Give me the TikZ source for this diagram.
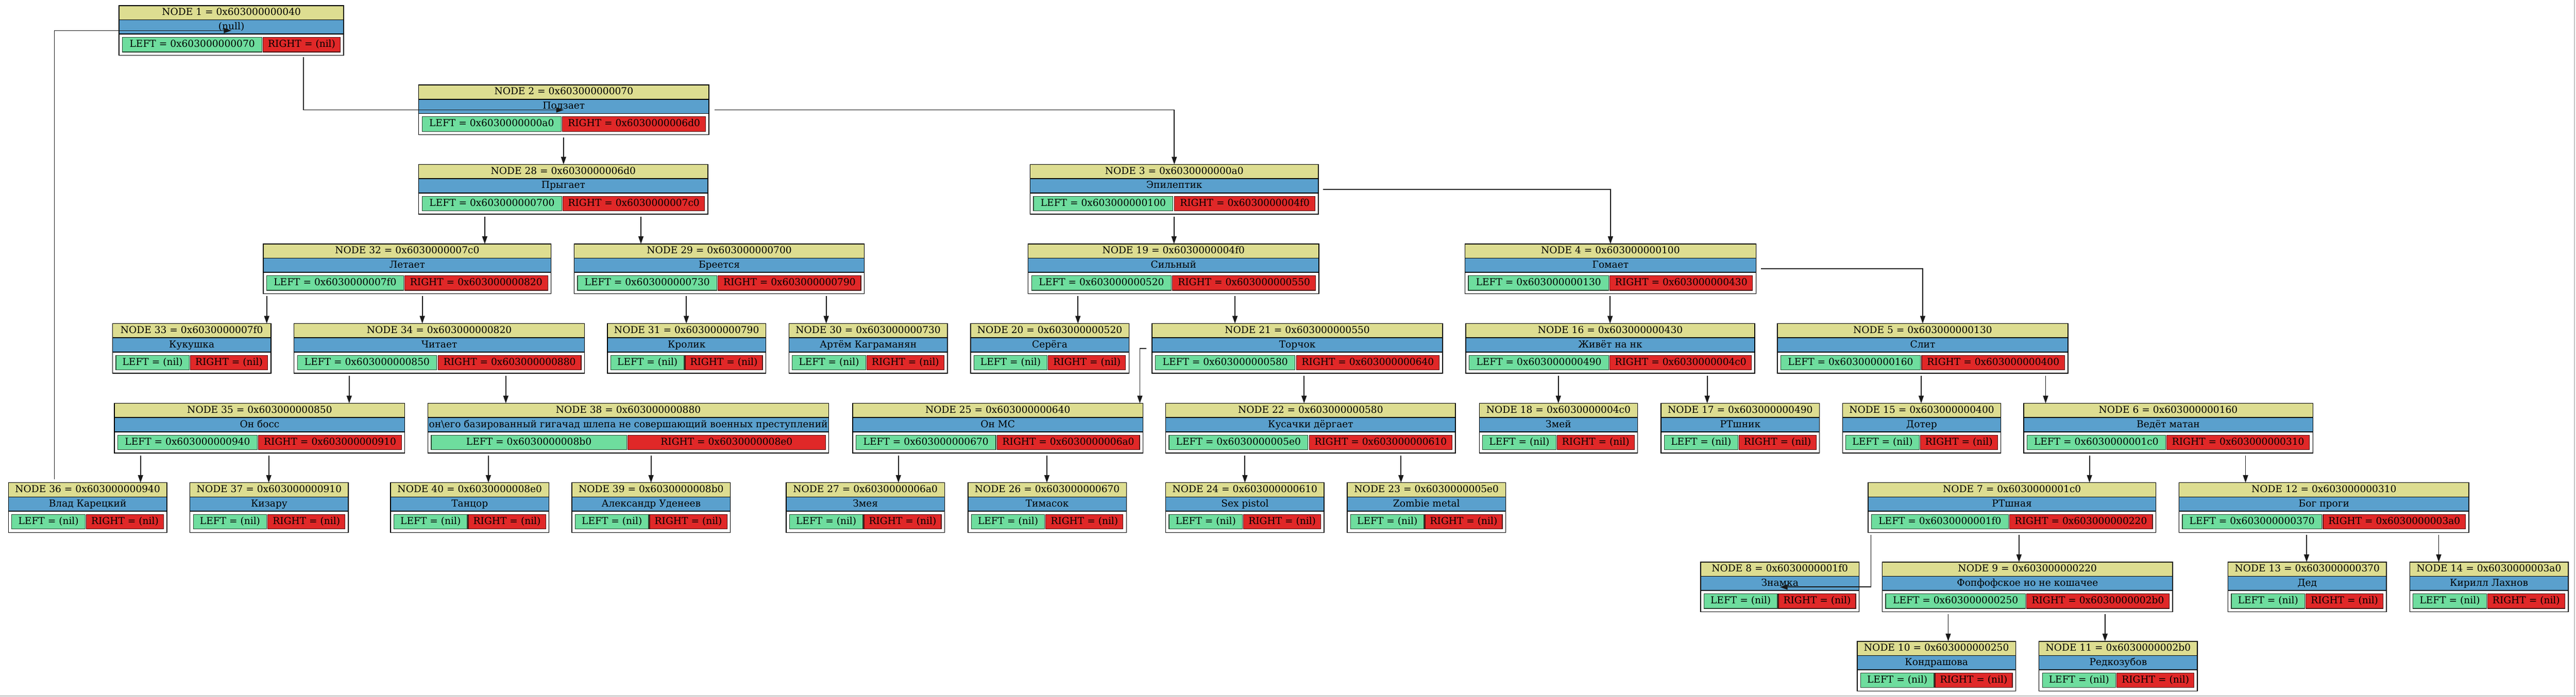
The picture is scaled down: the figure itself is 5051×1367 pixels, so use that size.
\documentclass[tikz,border=0pt]{standalone}
\usepackage{fontspec}
\setmainfont{DejaVu Serif}
\usetikzlibrary{arrows.meta}
\definecolor{hdrc}{RGB}{221,221,145}
\definecolor{lblc}{RGB}{90,160,205}
\definecolor{lcc}{RGB}{110,221,158}
\definecolor{rcc}{RGB}{224,40,40}
\definecolor{lcb}{RGB}{40,70,50}
\definecolor{rcb}{RGB}{80,20,20}
\tikzset{
  every node/.style={font=\fontsize{18.8pt}{22pt}\selectfont, inner sep=0pt, outer sep=0pt, text height=14pt, text depth=4pt},
  hdrbox/.style={fill=hdrc, minimum height=28pt},
  lblbox/.style={fill=lblc, minimum height=28pt},
  lcell/.style={fill=lcc, draw=lcb, line width=1.2pt, minimum height=28.5pt},
  rcell/.style={fill=rcc, draw=rcb, line width=1.2pt, minimum height=28.5pt},
  frame/.style={draw=black, line width=1.5pt, minimum height=97.6pt},
  sepline/.style={draw=black, line width=1.8pt},
  edge/.style={draw=black!90, line width=1.8pt, -{Triangle[length=15pt,width=10pt]}},
}
% name, L, R, left cell end, right cell start, header, label, left text, right text
\newcommand\fullrec[9]{%
  \node[hdrbox, minimum width={((#3)-(#2))*1pt}, anchor=north west] (#1h) at ({#2},{\rowtop}) {#6};
  \node[lblbox, minimum width={((#3)-(#2))*1pt}, anchor=north west] (#1b) at ({#2},{\rowtop+28}) {#7};
  \draw[sepline] (#1h.south west) -- (#1h.south east);
  \draw[sepline] (#1b.south west) -- (#1b.south east);
  \node[lcell, minimum width={((#4)-(#2)-6.5)*1pt}, anchor=north west] (#1l) at ({#2+6.5},{\rowtop+62.5}) {#8};
  \node[rcell, minimum width={((#3)-6.5-(#5))*1pt}, anchor=north west] (#1r) at ({#5},{\rowtop+62.5}) {#9};
  \node[frame, minimum width={((#3)-(#2))*1pt}, anchor=north west] (#1) at ({#2},{\rowtop}) {};
}
\newcommand\nilrec[4]{%
  \fullrec{#1}{#2}{#2+310.6}{#2+150.5}{#2+152.5}{#3}{#4}{LEFT = (nil)}{RIGHT = (nil)}}
\newcommand\vedge[3]{%
  \draw[edge, shorten <=5pt] (#1.south -| #3,0) -- (#2.north -| #3,0);}
\begin{document}
\begin{tikzpicture}[x=1pt,y=-1pt]
\useasboundingbox (0,0) rectangle (5051,1367);
\fill[white] (0,0) rectangle (5051,1367);
% row 1
\def\rowtop{11}
\fullrec{n1}{233.5}{674}{514}{515.6}{NODE 1 = 0x603000000040}{(null)}{LEFT = 0x603000000070}{RIGHT = (nil)}
% row 2
\def\rowtop{166.7}
\fullrec{n2}{821}{1390}{1100.5}{1103}{NODE 2 = 0x603000000070}{Ползает}{LEFT = 0x6030000000a0}{RIGHT = 0x6030000006d0}
% row 3
\def\rowtop{322.7}
\fullrec{n28}{821}{1388}{1102}{1104}{NODE 28 = 0x6030000006d0}{Прыгает}{LEFT = 0x603000000700}{RIGHT = 0x6030000007c0}
\fullrec{n3}{2020}{2585}{2300}{2303}{NODE 3 = 0x6030000000a0}{Эпилептик}{LEFT = 0x603000000100}{RIGHT = 0x6030000004f0}
% row 4
\def\rowtop{478.7}
\fullrec{n32}{516.3}{1080.6}{791.3}{793.4}{NODE 32 = 0x6030000007c0}{Летает}{LEFT = 0x6030000007f0}{RIGHT = 0x603000000820}
\fullrec{n29}{1126}{1694.6}{1405.6}{1408}{NODE 29 = 0x603000000700}{Бреется}{LEFT = 0x603000000730}{RIGHT = 0x603000000790}
\fullrec{n19}{2016}{2586}{2297}{2299}{NODE 19 = 0x6030000004f0}{Сильный}{LEFT = 0x603000000520}{RIGHT = 0x603000000550}
\fullrec{n4}{2872.5}{3443}{3154.5}{3156.6}{NODE 4 = 0x603000000100}{Гомает}{LEFT = 0x603000000130}{RIGHT = 0x603000000430}
% row 5
\def\rowtop{635}
\nilrec{n33}{220.7}{NODE 33 = 0x6030000007f0}{Кукушка}
\fullrec{n34}{576.5}{1146}{856.5}{859}{NODE 34 = 0x603000000820}{Читает}{LEFT = 0x603000000850}{RIGHT = 0x603000000880}
\nilrec{n31}{1191}{NODE 31 = 0x603000000790}{Кролик}
\nilrec{n30}{1547}{NODE 30 = 0x603000000730}{Артём Каграманян}
\nilrec{n20}{1903}{NODE 20 = 0x603000000520}{Серёга}
\fullrec{n21}{2259}{2828.6}{2539.5}{2542}{NODE 21 = 0x603000000550}{Торчок}{LEFT = 0x603000000580}{RIGHT = 0x603000000640}
\fullrec{n16}{2874}{3440.7}{3154.5}{3156.6}{NODE 16 = 0x603000000430}{Живёт на нк}{LEFT = 0x603000000490}{RIGHT = 0x6030000004c0}
\fullrec{n5}{3485}{4055}{3765.7}{3768}{NODE 5 = 0x603000000130}{Слит}{LEFT = 0x603000000160}{RIGHT = 0x603000000400}
% row 6
\def\rowtop{791.5}
\fullrec{n35}{224.5}{793.7}{504.5}{507}{NODE 35 = 0x603000000850}{Он босс}{LEFT = 0x603000000940}{RIGHT = 0x603000000910}
\fullrec{n38}{839}{1625}{1228.6}{1231}{NODE 38 = 0x603000000880}{он\textbackslash его базированный гигачад шлепа не совершающий военных преступлений}{LEFT = 0x6030000008b0}{RIGHT = 0x6030000008e0}
\fullrec{n25}{1672}{2241}{1952.7}{1955}{NODE 25 = 0x603000000640}{Он МС}{LEFT = 0x603000000670}{RIGHT = 0x6030000006a0}
\fullrec{n22}{2285.7}{2854}{2564.5}{2567}{NODE 22 = 0x603000000580}{Кусачки дёргает}{LEFT = 0x6030000005e0}{RIGHT = 0x603000000610}
\nilrec{n18}{2900.5}{NODE 18 = 0x6030000004c0}{Змей}
\nilrec{n17}{3257}{NODE 17 = 0x603000000490}{РТшник}
\nilrec{n15}{3612.7}{NODE 15 = 0x603000000400}{Дотер}
\fullrec{n6}{3967.8}{4535}{4246.3}{4248.5}{NODE 6 = 0x603000000160}{Ведёт матан}{LEFT = 0x6030000001c0}{RIGHT = 0x603000000310}
% row 7
\def\rowtop{947.3}
\nilrec{n36}{16.6}{NODE 36 = 0x603000000940}{Влад Карецкий}
\nilrec{n37}{372.5}{NODE 37 = 0x603000000910}{Кизару}
\nilrec{n40}{765.8}{NODE 40 = 0x6030000008e0}{Танцор}
\nilrec{n39}{1121.4}{NODE 39 = 0x6030000008b0}{Александр Уденеев}
\nilrec{n27}{1541.5}{NODE 27 = 0x6030000006a0}{Змея}
\nilrec{n26}{1898}{NODE 26 = 0x603000000670}{Тимасок}
\nilrec{n24}{2285.7}{NODE 24 = 0x603000000610}{Sex pistol}
\nilrec{n23}{2641.7}{NODE 23 = 0x6030000005e0}{Zombie metal}
\fullrec{n7}{3663}{4227}{3938}{3940}{NODE 7 = 0x6030000001c0}{РТшная}{LEFT = 0x6030000001f0}{RIGHT = 0x603000000220}
\fullrec{n12}{4272.6}{4841}{4552.5}{4555}{NODE 12 = 0x603000000310}{Бог проги}{LEFT = 0x603000000370}{RIGHT = 0x6030000003a0}
% row 8
\def\rowtop{1103}
\nilrec{n8}{3334.6}{NODE 8 = 0x6030000001f0}{Знамка}
\fullrec{n9}{3690.8}{4260}{3971.5}{3973.5}{NODE 9 = 0x603000000220}{Фопфофское но не кошачее}{LEFT = 0x603000000250}{RIGHT = 0x6030000002b0}
\nilrec{n13}{4368.7}{NODE 13 = 0x603000000370}{Дед}
\nilrec{n14}{4725}{NODE 14 = 0x6030000003a0}{Кирилл Лахнов}
% row 9
\def\rowtop{1258.5}
\nilrec{n10}{3641.7}{NODE 10 = 0x603000000250}{Кондрашова}
\nilrec{n11}{3998}{NODE 11 = 0x6030000002b0}{Редкозубов}
% straight edges
\vedge{n2}{n28}{1105}
\vedge{n28}{n32}{950.5}
\vedge{n28}{n29}{1256.7}
\vedge{n3}{n19}{2302}
\vedge{n4}{n16}{3157}
\vedge{n32}{n33}{523}
\vedge{n32}{n34}{828}
\vedge{n29}{n31}{1345.7}
\vedge{n29}{n30}{1620}
\vedge{n19}{n20}{2113.6}
\vedge{n19}{n21}{2421.5}
\vedge{n16}{n18}{3055.6}
\vedge{n16}{n17}{3347.4}
\vedge{n5}{n15}{3767}
\vedge{n5}{n6}{4011}
\vedge{n34}{n35}{684.7}
\vedge{n34}{n38}{991.8}
\vedge{n21}{n22}{2557}
\vedge{n35}{n36}{275.5}
\vedge{n35}{n37}{527}
\vedge{n38}{n40}{957.6}
\vedge{n38}{n39}{1276.5}
\vedge{n25}{n27}{1761.6}
\vedge{n25}{n26}{2052.7}
\vedge{n22}{n24}{2441}
\vedge{n22}{n23}{2747}
\vedge{n6}{n7}{4097}
\vedge{n6}{n12}{4403}
\vedge{n7}{n9}{3958.8}
\vedge{n12}{n13}{4522.7}
\vedge{n12}{n14}{4781.8}
\vedge{n9}{n10}{3820}
\vedge{n9}{n11}{4127.5}
% routed edges
\draw[edge, shorten <=4pt] (n1.south -| 595,0) |- ([yshift=-7pt]n2b.center);
\draw[edge, shorten <=11pt] ([yshift=-7pt]n2b.east) -| (n3.north);
\draw[edge, shorten <=9pt] ([yshift=-7pt]n3b.east) -| (n4.north);
\draw[edge, shorten <=10pt] ([yshift=-7pt]n4b.east) -| (n5.north);
\draw[edge, shorten <=7pt] (n36.north -| 106.5,0) |- ([yshift=-7pt]n1b.center);
\draw[edge, shorten <=11pt] ([yshift=-7pt]n21b.west) -| (n25.north -| 2235,0);
\draw[edge, shorten <=5pt] (n7.south -| 3668.5,0) |- ([yshift=-7pt]n8b.center);
% canvas border
\draw[line width=2pt, draw=black!25] (5048,0) -- (5048,1367);
\draw[line width=2pt, draw=black!25] (0,1366) -- (5051,1366);
\end{tikzpicture}
\end{document}
